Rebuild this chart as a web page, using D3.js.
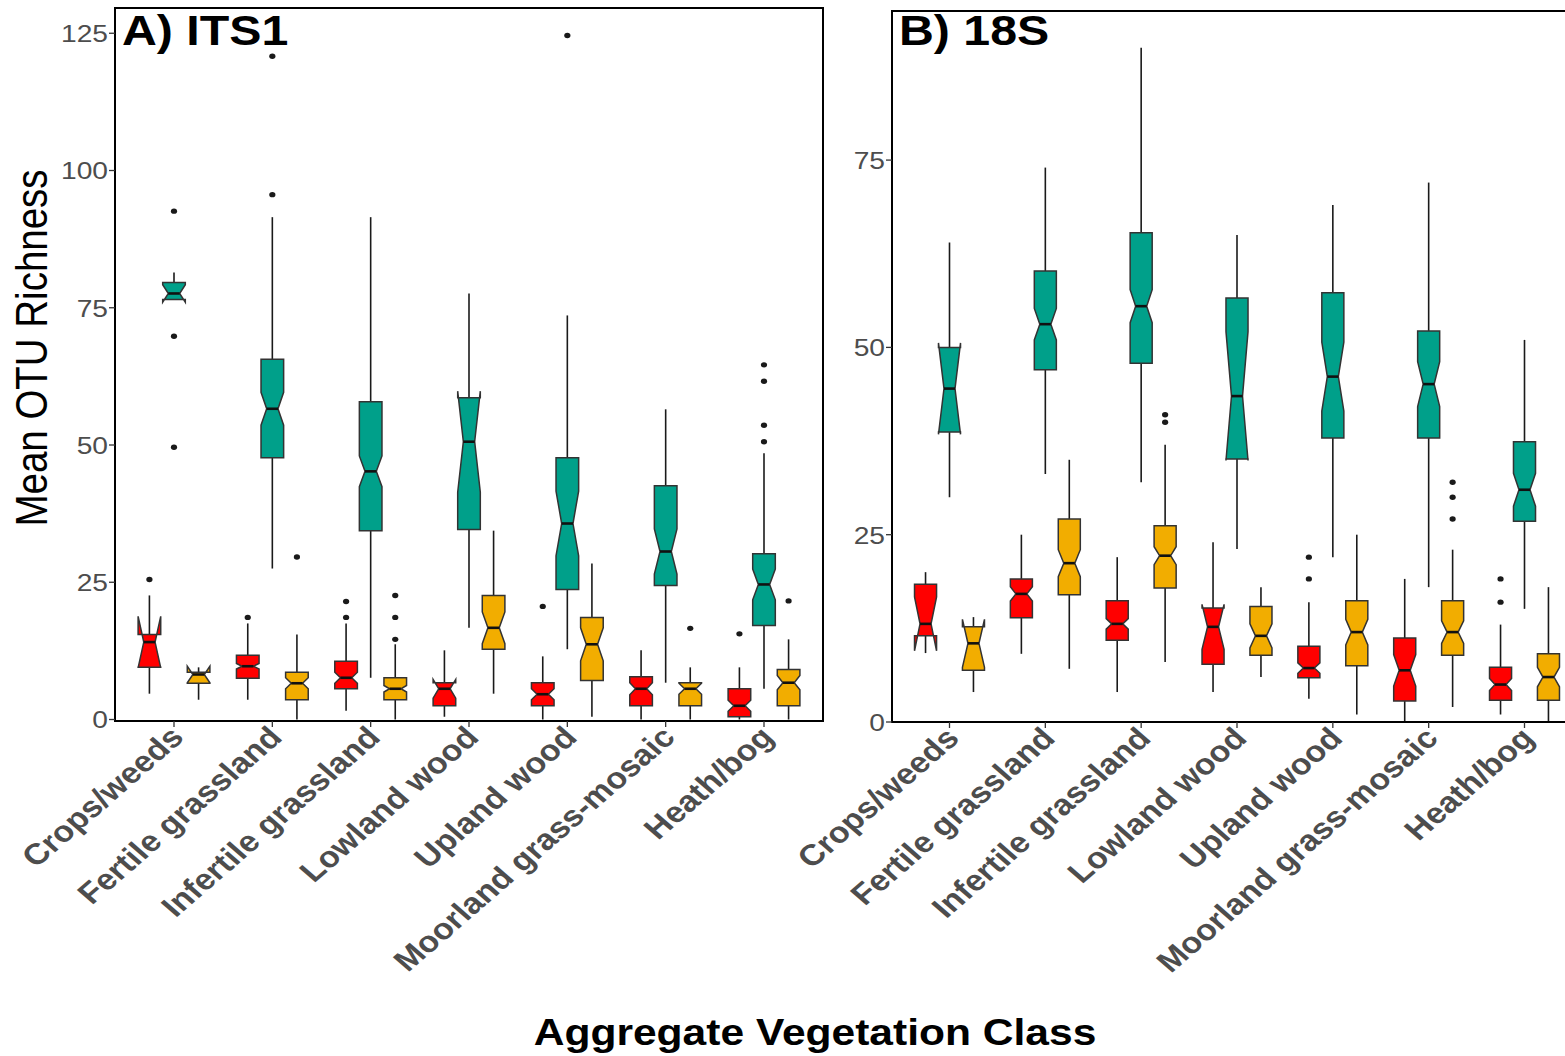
<!DOCTYPE html>
<html>
<head>
<meta charset="utf-8">
<script src="https://cdn.jsdelivr.net/npm/d3@7"></script>
<style>
  body { margin: 0; background: #ffffff; }
  svg { display: block; }
</style>
</head>
<body>
<svg id="chart" width="1565" height="1056"></svg>
<script>
// Vegetation classes on the x axis
const categories = ["Crops/weeds", "Fertile grassland", "Infertile grassland", "Lowland wood",
                    "Upland wood", "Moorland grass-mosaic", "Heath/bog"];

// Y tick labels for each panel
const ticksITS1 = [0, 25, 50, 75, 100, 125];
const ticks18S = [0, 25, 50, 75];

// Box statistics, one row per class:
// [lower whisker, lower hinge, median, upper hinge, upper whisker, notch half-width]
const its1Red = [
  [4.7, 9.5, 14.1, 15.5, 22.6, 4.7],
  [3.6, 7.5, 9.7, 11.7, 17.5, 0.5],
  [1.6, 5.6, 7.6, 10.6, 17.5, 1.0],
  [0.5, 2.5, 5.6, 6.7, 12.6, 1.7],
  [0.0, 2.5, 4.6, 6.7, 11.5, 1.0],
  [0.0, 2.5, 5.6, 7.8, 12.6, 1.1],
  [0.0, 0.5, 2.5, 5.6, 9.5, 1.0]
];
const its1Teal = [
  [76.5, 76.5, 77.6, 79.6, 81.4, 1.6],
  [27.5, 47.7, 56.6, 65.6, 91.5, 3.0],
  [7.6, 34.4, 45.2, 57.9, 91.5, 2.8],
  [16.7, 34.6, 50.6, 58.6, 77.6, 9.2],
  [12.8, 23.7, 35.7, 47.7, 73.6, 5.9],
  [6.7, 24.4, 30.6, 42.6, 56.5, 4.1],
  [5.6, 17.1, 24.6, 30.2, 48.5, 2.8]
];
const its1Gold = [
  [3.6, 6.6, 8.2, 8.6, 9.5, 1.5],
  [0.0, 3.6, 6.6, 8.6, 15.5, 1.0],
  [0.0, 3.6, 5.6, 7.6, 13.7, 0.6],
  [4.7, 12.8, 16.7, 22.6, 34.4, 2.9],
  [0.5, 7.1, 13.7, 18.6, 28.4, 3.0],
  [0.0, 2.5, 5.6, 6.7, 9.5, 1.0],
  [0.0, 2.5, 6.7, 9.1, 14.6, 1.3]
];
const its1RedOutliers = [[25.5], [18.6], [18.6, 21.5], [], [20.6], [], [15.6]];
const its1TealOutliers = [[92.6, 69.8, 49.6], [120.8, 95.6], [], [], [124.6], [], [64.6, 61.6, 53.6, 50.6]];
const its1GoldOutliers = [[], [29.6], [22.6, 18.6, 14.6], [], [], [16.6], [21.6]];

const s18Red = [
  [9.2, 11.5, 13.1, 18.4, 20.0, 3.6],
  [9.1, 13.9, 17.1, 19.1, 25.0, 0.95],
  [4.0, 10.9, 13.1, 16.2, 22.0, 0.7],
  [4.0, 7.7, 12.7, 15.2, 24.0, 3.0],
  [3.1, 5.9, 7.2, 10.1, 16.0, 0.7],
  [0.0, 2.8, 6.9, 11.2, 19.1, 2.1],
  [1.0, 2.9, 5.0, 7.3, 13.0, 0.8]
];
const s18Teal = [
  [30.0, 38.7, 44.5, 50.0, 64.0, 6.1],
  [33.1, 47.0, 53.1, 60.2, 74.0, 2.1],
  [32.0, 47.9, 55.5, 65.3, 90.0, 2.2],
  [23.1, 35.1, 43.5, 56.6, 65.0, 8.6],
  [22.0, 37.9, 46.1, 57.3, 69.0, 4.6],
  [18.0, 37.9, 45.1, 52.2, 72.0, 3.0],
  [15.1, 26.8, 31.0, 37.4, 51.0, 2.2]
];
const s18Gold = [
  [4.0, 6.9, 10.5, 12.7, 14.0, 3.2],
  [7.1, 17.0, 21.2, 27.1, 35.0, 1.8],
  [8.0, 17.9, 22.2, 26.2, 37.0, 1.2],
  [6.0, 8.9, 11.5, 15.4, 18.0, 1.6],
  [1.0, 7.5, 12.0, 16.2, 25.0, 1.7],
  [2.0, 8.9, 12.0, 16.2, 23.0, 1.5],
  [0.0, 2.9, 6.0, 9.1, 18.0, 1.3]
];
const s18RedOutliers = [[], [], [], [], [22.0, 19.1], [], [19.1, 16.0]];
const s18TealOutliers = [[], [], [], [], [], [], []];
const s18GoldOutliers = [[], [], [41.0, 40.0], [], [], [32.0, 30.0, 27.1], []];

// Fill colours of the three dodged groups (left, centre, right)
const fills = ["#FF0000", "#00A08A", "#F2AD00"];

const SX = 1.15;            // horizontal stretch of the lettering
const FONT = "Liberation Sans, Arial, sans-serif";
const svg = d3.select("#chart");

const panels = [
  { title: "A) ITS1", stats: [its1Red, its1Teal, its1Gold],
    outliers: [its1RedOutliers, its1TealOutliers, its1GoldOutliers],
    ticks: ticksITS1, yMax: 129.6,
    left: 115, right: 823, top: 8, bottom: 719.5, axisY: 721, closed: true },
  { title: "B) 18S", stats: [s18Red, s18Teal, s18Gold],
    outliers: [s18RedOutliers, s18TealOutliers, s18GoldOutliers],
    ticks: ticks18S, yMax: 94.9,
    left: 892, right: 1582, top: 11, bottom: 722, axisY: 722, closed: false }
];

panels.forEach(p => {
  const g = svg.append("g");
  const x = d3.scalePoint().domain(categories).range([p.left, p.right]).padding(0.6);
  const y = d3.scaleLinear().domain([0, p.yMax]).range([p.bottom, p.top]);
  const step = x.step();
  const dodge = 0.25 * step;
  const bw = 0.23 * step;
  const indent = bw / 4;   // notch width 0.5

  // whiskers, notched boxes, medians
  p.stats.forEach((rows, si) => {
    const off = (si - 1) * dodge;
    rows.forEach((r, ci) => {
      const [lo, q1, med, q3, hi, nh] = r;
      const cx = x(categories[ci]) + off;
      const xmin = cx - bw / 2, xmax = cx + bw / 2;
      const nu = med + nh, nl = med - nh;

      g.append("line").attr("x1", cx).attr("x2", cx).attr("y1", y(q3)).attr("y2", y(hi))
        .attr("stroke", "#1a1a1a").attr("stroke-width", 1.6);
      g.append("line").attr("x1", cx).attr("x2", cx).attr("y1", y(q1)).attr("y2", y(lo))
        .attr("stroke", "#1a1a1a").attr("stroke-width", 1.6);

      const pts = [
        [xmin, y(q3)], [xmin, y(nu)], [xmin + indent, y(med)], [xmin, y(nl)], [xmin, y(q1)],
        [xmax, y(q1)], [xmax, y(nl)], [xmax - indent, y(med)], [xmax, y(nu)], [xmax, y(q3)]
      ];
      g.append("path").attr("d", d3.line()(pts) + "Z")
        .attr("fill", fills[si]).attr("stroke", "#333333").attr("stroke-width", 1.5)
        .attr("stroke-linejoin", "miter");
      g.append("line").attr("x1", xmin + indent).attr("x2", xmax - indent)
        .attr("y1", y(med)).attr("y2", y(med))
        .attr("stroke", "#111111").attr("stroke-width", 2.6);
    });
    p.outliers[si].forEach((vals, ci) => {
      const cx = x(categories[ci]) + off;
      vals.forEach(v => {
        g.append("ellipse").attr("cx", cx).attr("cy", y(v)).attr("rx", 3.1).attr("ry", 2.7)
          .attr("fill", "#1a1a1a");
      });
    });
  });

  // panel frame
  if (p.closed) {
    g.append("rect").attr("x", p.left).attr("y", p.top)
      .attr("width", p.right - p.left).attr("height", p.axisY - p.top)
      .attr("fill", "none").attr("stroke", "#000").attr("stroke-width", 2);
  } else {
    g.append("path")
      .attr("d", `M${p.left},${p.axisY}V${p.top}H${p.right}V${p.axisY}Z`)
      .attr("fill", "none").attr("stroke", "#000").attr("stroke-width", 2);
  }

  // y axis ticks and labels
  p.ticks.forEach(t => {
    const ty = y(t);
    g.append("line").attr("x1", p.left - 6).attr("x2", p.left).attr("y1", ty).attr("y2", ty)
      .attr("stroke", "#333").attr("stroke-width", 1.3);
    g.append("text").attr("transform", `translate(${p.left - 7},${ty}) scale(${SX},1)`)
      .attr("text-anchor", "end").attr("dy", "0.36em")
      .attr("font-family", FONT).attr("font-size", 24.5)
      .attr("fill", "#4d4d4d").text(t);
  });

  // x axis ticks and rotated labels
  categories.forEach(c => {
    const tx = x(c);
    g.append("line").attr("x1", tx).attr("x2", tx).attr("y1", p.axisY).attr("y2", p.axisY + 6)
      .attr("stroke", "#333").attr("stroke-width", 1.3);
    g.append("text")
      .attr("transform", `translate(${tx - 6},${p.axisY + 3}) scale(${SX},1) rotate(-45)`)
      .attr("text-anchor", "end").attr("dy", "0.72em")
      .attr("font-family", FONT).attr("font-size", 29.5)
      .attr("font-weight", "bold").attr("fill", "#4d4d4d").text(c);
  });

  // panel title
  g.append("text").attr("transform", `translate(${p.left + 7},45) scale(${SX},1)`)
    .attr("font-family", FONT).attr("font-size", 42)
    .attr("font-weight", "bold").attr("fill", "#000").text(p.title);
});

// axis titles
svg.append("text").attr("transform", `translate(815,1045) scale(${SX},1)`)
  .attr("text-anchor", "middle")
  .attr("font-family", FONT).attr("font-size", 37)
  .attr("font-weight", "bold").attr("fill", "#000").text("Aggregate Vegetation Class");

svg.append("text").attr("transform", `translate(47,348) scale(${SX},1) rotate(-90)`)
  .attr("text-anchor", "middle")
  .attr("font-family", FONT).attr("font-size", 38.5)
  .attr("fill", "#000").text("Mean OTU Richness");
</script>
</body>
</html>
